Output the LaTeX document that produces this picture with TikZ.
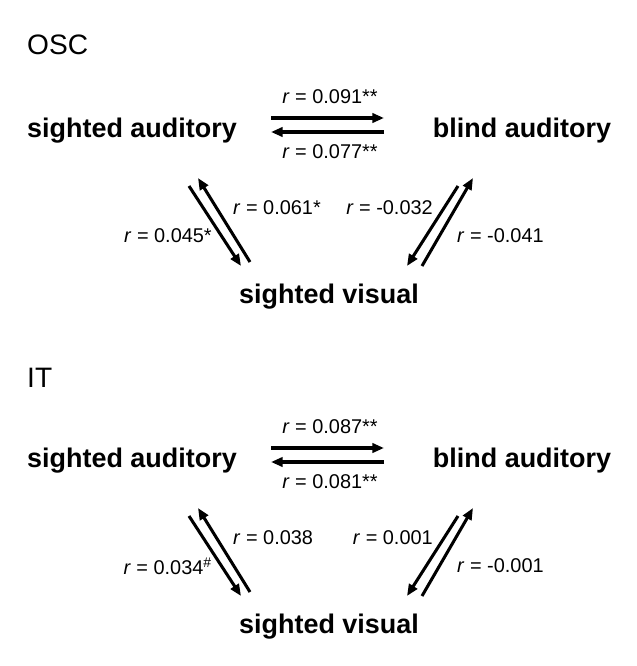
\documentclass[tikz,border=0pt]{standalone}
\usepackage{fontspec}
\setmainfont{Liberation Sans}
\usetikzlibrary{arrows.meta,positioning}

\tikzset{
  cond/.style={font=\fontsize{23}{26}\selectfont\bfseries, inner sep=0pt},
  lab/.style={font=\fontsize{17}{20}\selectfont, inner sep=0pt},
  ttl/.style={font=\fontsize{24}{28}\selectfont, inner sep=0pt, anchor=west},
  arr/.style={line width=2.6pt, -{Triangle[length=10pt,width=8pt]}},
}

\begin{document}
\begin{tikzpicture}[x=0.03cm, y=-0.03cm]
    \useasboundingbox (0,0) rectangle (636,666);
    % OSC
    \node(T1) at (27,45) [ttl] {OSC};
    \node(SA1) at (132,131) [cond] {sighted auditory};
    \node(BA1) at (522,131) [cond] {blind auditory};
    \node(SV1) at (329,297) [cond] {sighted visual};
    \coordinate (h1a) at (271,118); \coordinate (h1b) at (384,118);
    \coordinate (h2a) at (384,132); \coordinate (h2b) at (271,132);
    \coordinate (l1a) at (189,186); \coordinate (l1b) at (241,266);
    \coordinate (l2a) at (250,262); \coordinate (l2b) at (198,178);
    \coordinate (r1a) at (458,186); \coordinate (r1b) at (407,266);
    \coordinate (r2a) at (422,266); \coordinate (r2b) at (473,178);
    \draw [arr] (h1a) -- (h1b);
    \draw [arr] (h2a) -- (h2b);
    \draw [arr] (l1a) -- (l1b);
    \draw [arr] (l2a) -- (l2b);
    \draw [arr] (r1a) -- (r1b);
    \draw [arr] (r2a) -- (r2b);
    \node(a1) at (330,97) [lab] {\emph{r} = 0.091**};
    \node(b1) at (330,152) [lab] {\emph{r} = 0.077**};
    \node(c1) at (212,236) [lab, anchor=east] {\emph{r} = 0.045*};
    \node(d1) at (233,208) [lab, anchor=west] {\emph{r} = 0.061*};
    \node(e1) at (433,208) [lab, anchor=east] {\emph{r} = -0.032};
    \node(f1) at (457,236) [lab, anchor=west] {\emph{r} = -0.041};
    % IT
    \begin{scope}[shift={(0,330)}]
    \node(T2) at (27,48) [ttl] {IT};
    \node(SA2) at (132,131) [cond] {sighted auditory};
    \node(BA2) at (522,131) [cond] {blind auditory};
    \node(SV2) at (329,297) [cond] {sighted visual};
    \coordinate (h3a) at (271,118); \coordinate (h3b) at (384,118);
    \coordinate (h4a) at (384,132); \coordinate (h4b) at (271,132);
    \coordinate (l3a) at (189,186); \coordinate (l3b) at (241,266);
    \coordinate (l4a) at (250,262); \coordinate (l4b) at (198,178);
    \coordinate (r3a) at (458,186); \coordinate (r3b) at (407,266);
    \coordinate (r4a) at (422,266); \coordinate (r4b) at (473,178);
    \draw [arr] (h3a) -- (h3b);
    \draw [arr] (h4a) -- (h4b);
    \draw [arr] (l3a) -- (l3b);
    \draw [arr] (l4a) -- (l4b);
    \draw [arr] (r3a) -- (r3b);
    \draw [arr] (r4a) -- (r4b);
    \node(a2) at (330,97) [lab] {\emph{r} = 0.087**};
    \node(b2) at (330,152) [lab] {\emph{r} = 0.081**};
    \node(c2) at (212,236) [lab, anchor=east] {\emph{r} = 0.034\textsuperscript{\#}};
    \node(d2) at (233,208) [lab, anchor=west] {\emph{r} = 0.038};
    \node(e2) at (433,208) [lab, anchor=east] {\emph{r} = 0.001};
    \node(f2) at (457,236) [lab, anchor=west] {\emph{r} = -0.001};
    \end{scope}
\end{tikzpicture}
\end{document}
